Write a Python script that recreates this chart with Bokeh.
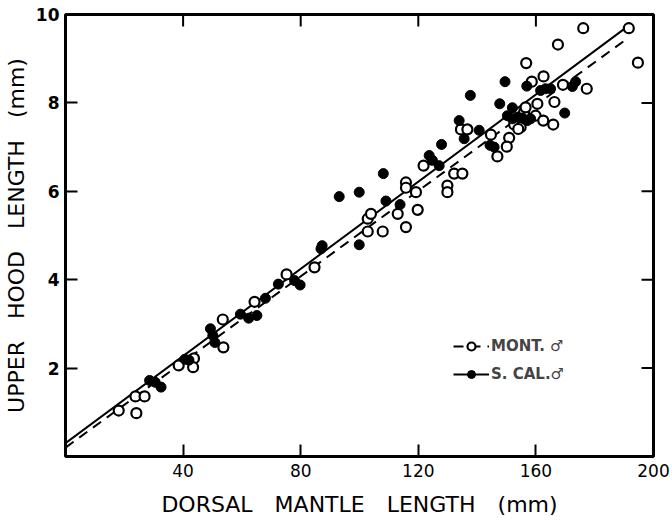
from bokeh.plotting import figure
from bokeh.models import Range1d, FixedTicker, Legend, LegendItem
from bokeh.embed import file_html
from bokeh.resources import INLINE

# ---- data ----
mont_x = [18.1, 24.1, 23.8, 26.9, 38.5, 43.7, 43.4, 53.5, 53.7, 64.3, 75.2, 84.7,
          102.8, 107.9, 102.8, 103.9, 113.0, 115.8, 119.8, 115.8, 115.8, 119.2, 121.8,
          129.9, 129.9, 132.2, 135.0, 134.5, 136.7, 144.7, 150.9, 150.1, 146.9, 152.6,
          154.8, 154.0, 156.5, 159.9, 162.5, 165.9, 156.0, 156.5, 160.5, 166.3, 156.7,
          158.6, 162.6, 169.2, 177.3, 167.5, 176.1, 191.6, 194.7]
mont_y = [1.04, 0.98, 1.36, 1.36, 2.06, 2.22, 2.02, 3.10, 2.47, 3.50, 4.12, 4.28,
          5.09, 5.09, 5.38, 5.49, 5.49, 5.19, 5.58, 6.20, 6.08, 5.98, 6.58,
          6.13, 5.98, 6.40, 6.40, 7.40, 7.40, 7.28, 7.21, 7.01, 6.79, 7.51,
          7.45, 7.41, 7.64, 7.71, 7.60, 7.51, 7.79, 7.90, 7.98, 8.02, 8.90,
          8.48, 8.60, 8.41, 8.32, 9.32, 9.69, 9.69, 8.91]

scal_x = [28.6, 30.5, 32.5, 40.6, 42.0, 49.3, 50.1, 50.8, 59.5, 62.3, 65.1, 68.0,
          72.4, 77.9, 79.8, 86.9, 87.3, 93.1, 99.9, 99.9, 108.1, 109.0, 113.8,
          123.7, 124.8, 127.1, 127.9, 133.9, 135.6, 137.7, 140.7, 144.4, 145.8,
          147.7, 149.5, 150.3, 152.0, 152.0, 153.7, 155.4, 157.1, 158.2, 156.9,
          161.6, 163.3, 165.0, 169.8, 172.4, 173.5]
scal_y = [1.72, 1.68, 1.57, 2.20, 2.18, 2.89, 2.74, 2.58, 3.22, 3.13, 3.19, 3.58,
          3.90, 3.98, 3.88, 4.70, 4.77, 5.88, 5.98, 4.79, 6.40, 5.78, 5.70,
          6.81, 6.70, 6.58, 7.06, 7.60, 7.19, 8.17, 7.38, 7.04, 7.00,
          7.98, 8.48, 7.71, 7.89, 7.64, 7.68, 7.66, 7.60, 7.64, 8.38,
          8.28, 8.32, 8.32, 7.77, 8.37, 8.48]

fit_x = [0, 191]
mont_fit_y = [0.20, 9.45]
scal_fit_y = [0.30, 9.72]

x_ticks = [40, 80, 120, 160, 200]
y_ticks = [2, 4, 6, 8, 10]
x_min, x_max = 0, 200
y_min, y_max = 0, 10

FONT = "DejaVu Sans"
XGAP = "\u2003"
YGAP = "\u2003"

p = figure(width=672, height=523, output_backend="svg", toolbar_location=None,
           x_range=Range1d(x_min, x_max), y_range=Range1d(y_min, y_max),
           min_border_left=64, min_border_right=19, min_border_top=14, min_border_bottom=67)
p.grid.visible = False
p.background_fill_color = "white"
p.border_fill_color = "white"
p.outline_line_color = "black"
p.outline_line_width = 3
p.outline_line_alpha = 1

for ax in (p.xaxis[0], p.yaxis[0]):
    ax.axis_line_color = None
    ax.major_tick_in = 12
    ax.major_tick_out = 0
    ax.major_tick_line_width = 2
    ax.minor_tick_line_color = None
    ax.major_label_text_font = FONT
    ax.major_label_text_color = "black"
    ax.axis_label_text_font = FONT
    ax.axis_label_text_font_style = "normal"
    ax.axis_label_text_color = "black"
    ax.axis_label_text_font_size = "22px"

p.xaxis[0].ticker = FixedTicker(ticks=x_ticks)
p.yaxis[0].ticker = FixedTicker(ticks=y_ticks)
p.xaxis[0].major_label_text_font_size = "17px"
p.yaxis[0].major_label_text_font_size = "17px"
p.yaxis[0].major_label_text_font_style = "bold"
p.xaxis[0].major_label_standoff = 7
p.yaxis[0].major_label_standoff = 6
p.xaxis[0].axis_label = XGAP.join(["DORSAL", "MANTLE", "LENGTH", "(mm)"])
p.yaxis[0].axis_label = YGAP.join(["UPPER", "HOOD", "LENGTH", "(mm)"])
p.xaxis[0].axis_label_standoff = 12
p.yaxis[0].axis_label_standoff = 4

# inward ticks on the top and right edges
p.ray(x=x_ticks[:-1], y=[y_max] * 4, length=12, length_units="screen",
      angle=-90, angle_units="deg", line_color="black", line_width=2)
p.ray(x=[x_max] * 4, y=y_ticks[:-1], length=12, length_units="screen",
      angle=180, angle_units="deg", line_color="black", line_width=2)

l_mont = p.line(fit_x, mont_fit_y, line_color="black", line_width=2, line_dash="10 7")
l_scal = p.line(fit_x, scal_fit_y, line_color="black", line_width=2)

s_mont = p.scatter(mont_x, mont_y, size=10, marker="circle", fill_color="white",
                   line_color="black", line_width=2.2)
s_scal = p.scatter(scal_x, scal_y, size=10, marker="circle", fill_color="black",
                   line_color="black", line_width=1)

legend = Legend(items=[LegendItem(label="MONT. \u2642", renderers=[l_mont, s_mont]),
                       LegendItem(label="S. CAL.\u2642", renderers=[l_scal, s_scal])],
                location=(388, 72), orientation="vertical")
legend.border_line_color = None
legend.background_fill_alpha = 0
legend.label_text_font = FONT
legend.label_text_font_size = "15px"
legend.label_text_font_style = "bold"
legend.glyph_width = 36
legend.glyph_height = 20
legend.label_standoff = 2
legend.spacing = 8
legend.padding = 0
legend.margin = 0
p.add_layout(legend, "center")

open("out.html", "w").write(file_html(p, INLINE))
